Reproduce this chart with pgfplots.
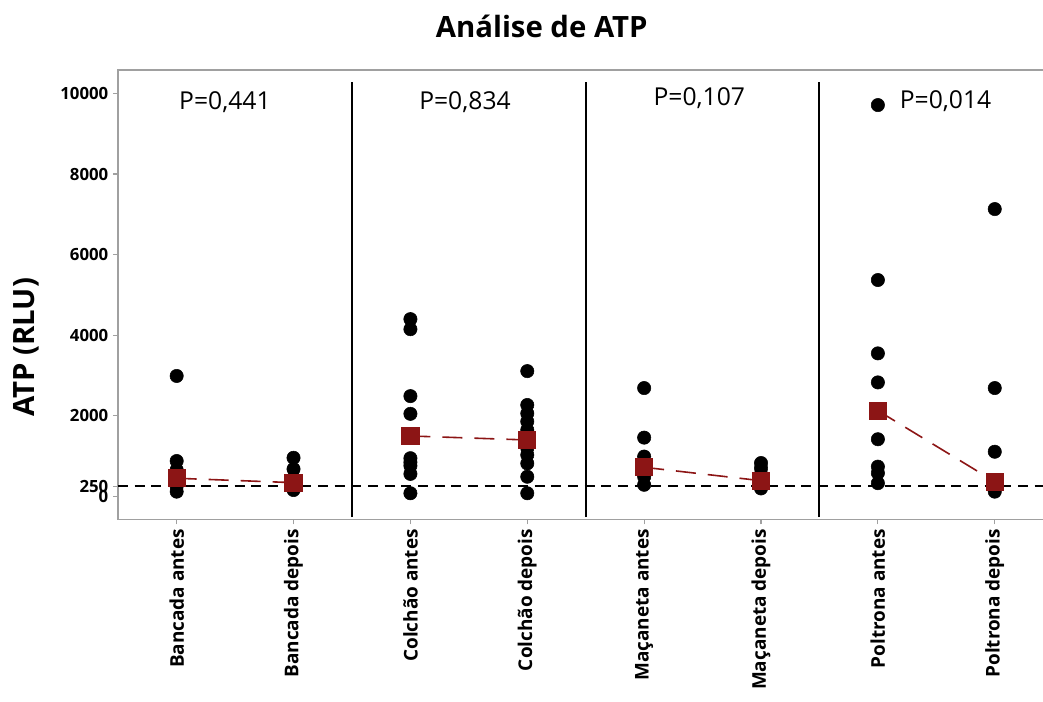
\documentclass[border=0pt]{standalone}
\usepackage{pgfplots}
\pgfplotsset{compat=1.18}
\usepackage{fontspec}
\setmainfont{Open Sans}
\definecolor{meanred}{RGB}{140,21,21}
\definecolor{framegray}{RGB}{160,160,160}
\begin{document}
\begin{tikzpicture}
\useasboundingbox (-88.5pt,-136.9pt) rectangle (693.75pt,389.6pt);
\begin{axis}[
  at={(0,0)}, anchor=south west,
  width=701.4pt, height=337.1pt, scale only axis,
  xmin=-0.502, xmax=7.5, ymin=-570, ymax=10580,
  clip=false,
  scaled y ticks=false, scaled x ticks=false,
  axis line style={framegray, line width=1.1pt},
  xtick={0,1,2,3,4,5,6,7},
  xticklabels={Bancada antes, Bancada depois, Colchão antes, Colchão depois, Maçaneta antes, Maçaneta depois, Poltrona antes, Poltrona depois},
  ytick={0,250,2000,4000,6000,8000,10000},
  yticklabels={0,250,2000,4000,6000,8000,10000},
  tick align=outside, xtick pos=bottom, ytick pos=left,
  major tick length=3.75pt,
  tick style={framegray, line width=0.8pt},
  xticklabel style={rotate=90, anchor=east, font=\bfseries\fontsize{14.2}{16}\selectfont},
  yticklabel style={font=\bfseries\fontsize{12.6}{14}\selectfont},
  ylabel={ATP (RLU)},
  ylabel style={font=\bfseries\fontsize{22}{26}\selectfont, at={(axis description cs:-0.0978,0.3827)}, anchor=center},
]
% group separators
\addplot[black, line width=1.5pt, forget plot] coordinates {(1.5,-509) (1.5,10285)};
\addplot[black, line width=1.5pt, forget plot] coordinates {(3.5,-509) (3.5,10285)};
\addplot[black, line width=1.5pt, forget plot] coordinates {(5.5,-509) (5.5,10285)};
% individual values
\addplot[only marks, mark=*, mark size=5pt, black] coordinates {
 (0,2990) (0,880) (0,660) (0,400) (0,250) (0,120)
 (1,960) (1,680) (1,450) (1,300) (1,160)
 (2,4400) (2,4150) (2,2490) (2,2050) (2,950) (2,850) (2,760) (2,560) (2,80)
 (3,3110) (3,2270) (3,2060) (3,1860) (3,1650) (3,1200) (3,1030) (3,820) (3,490) (3,80)
 (4,2690) (4,1460) (4,990) (4,750) (4,490) (4,290)
 (5,830) (5,700) (5,550) (5,400) (5,200)
 (6,9710) (6,5370) (6,3550) (6,2830) (6,1420) (6,740) (6,580) (6,330)
 (7,7130) (7,2690) (7,1110) (7,300) (7,120)
};
% means
\addplot[meanred, line width=1.2pt, dash pattern=on 15pt off 9pt, mark=square*, mark size=6.25pt, mark options={solid}] coordinates {(0,452) (1,343)};
\addplot[meanred, line width=1.2pt, dash pattern=on 15pt off 9pt, mark=square*, mark size=6.25pt, mark options={solid}] coordinates {(2,1501) (3,1402)};
\addplot[meanred, line width=1.2pt, dash pattern=on 15pt off 9pt, mark=square*, mark size=6.25pt, mark options={solid}] coordinates {(4,724) (5,392)};
\addplot[meanred, line width=1.2pt, dash pattern=on 15pt off 9pt, mark=square*, mark size=6.25pt, mark options={solid}] coordinates {(6,2129) (7,367)};
% reference line
\addplot[black, line width=1.5pt, dash pattern=on 7.5pt off 5pt, forget plot] coordinates {(-0.502,250) (7.5,250)};
% p-values
\node[anchor=base, font=\fontsize{18.5}{22}\selectfont] at (axis cs:0.413,9590) {P=0,441};
\node[anchor=base, font=\fontsize{18.5}{22}\selectfont] at (axis cs:2.467,9590) {P=0,834};
\node[anchor=base, font=\fontsize{18.5}{22}\selectfont] at (axis cs:4.472,9690) {P=0,107};
\node[anchor=base, font=\fontsize{18.5}{22}\selectfont] at (axis cs:6.579,9633) {P=0,014};
% title
\node[anchor=base, font=\bfseries\fontsize{22}{26}\selectfont] at (axis description cs:0.4531,1.0719) {Análise de ATP};
\end{axis}
\end{tikzpicture}
\end{document}
